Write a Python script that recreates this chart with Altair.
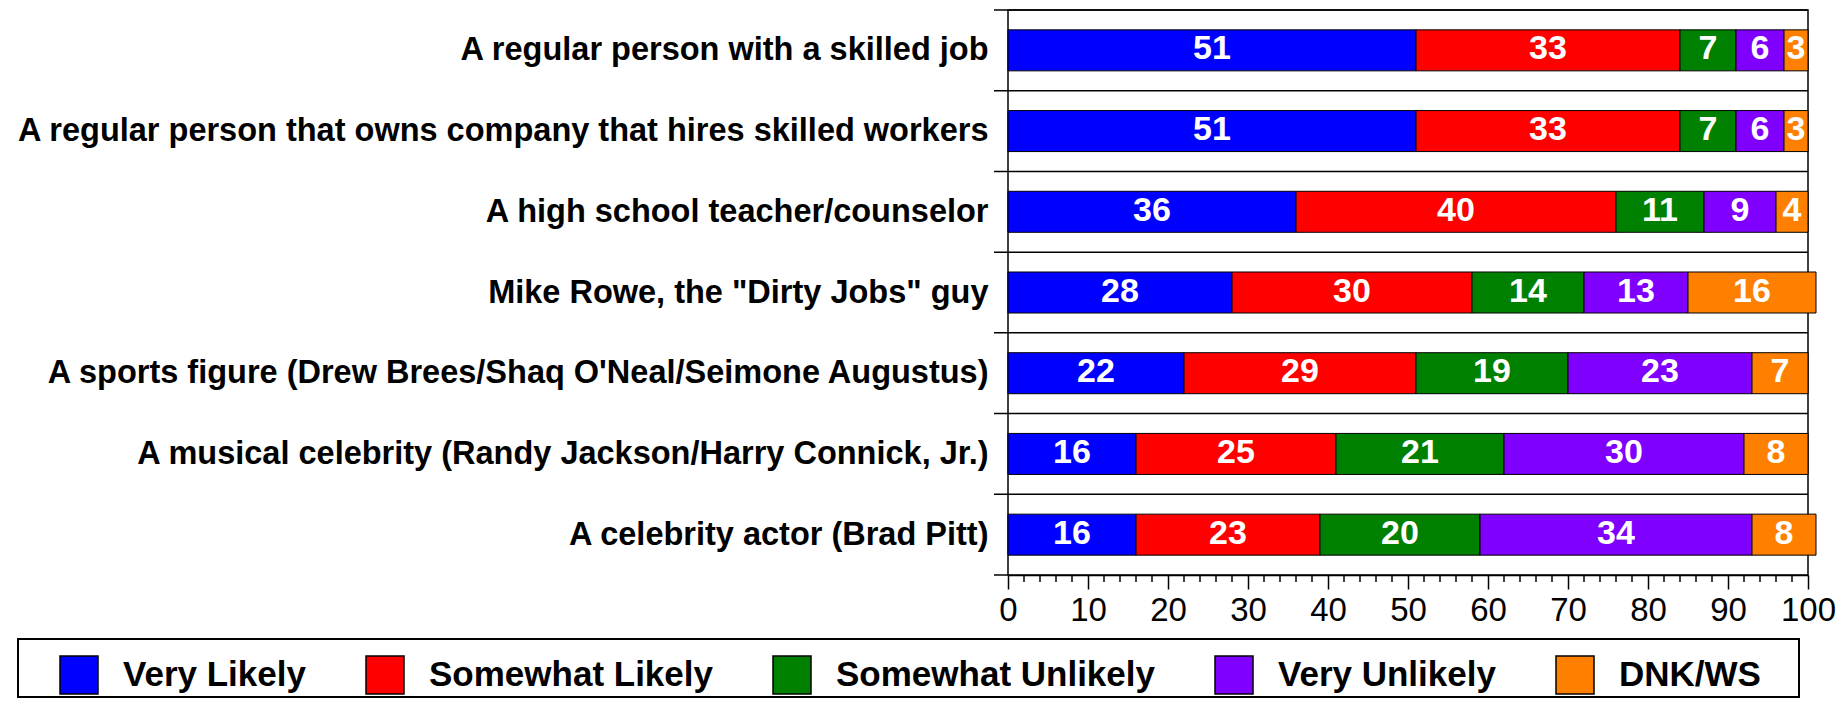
import altair as alt
import pandas as pd

items = [
    "A regular person with a skilled job",
    "A regular person that owns company that hires skilled workers",
    "A high school teacher/counselor",
    'Mike Rowe, the "Dirty Jobs" guy',
    "A sports figure (Drew Brees/Shaq O'Neal/Seimone Augustus)",
    "A musical celebrity (Randy Jackson/Harry Connick, Jr.)",
    "A celebrity actor (Brad Pitt)",
]
categories = ["Very Likely", "Somewhat Likely", "Somewhat Unlikely", "Very Unlikely", "DNK/WS"]
colors = ["#0000FF", "#FF0000", "#008000", "#8000FF", "#FF8000"]

very_likely = [51, 51, 36, 28, 22, 16, 16]
somewhat_likely = [33, 33, 40, 30, 29, 25, 23]
somewhat_unlikely = [7, 7, 11, 14, 19, 21, 20]
very_unlikely = [6, 6, 9, 13, 23, 30, 34]
dnk_ws = [3, 3, 4, 16, 7, 8, 8]

x_ticks = [0, 10, 20, 30, 40, 50, 60, 70, 80, 90, 100]
minor_ticks = [v for v in range(0, 101, 2) if v % 10]

series = [very_likely, somewhat_likely, somewhat_unlikely, very_unlikely, dnk_ws]
rows = []
for i, item in enumerate(items):
    for j, cat in enumerate(categories):
        rows.append({"item": item, "category": cat, "order": j, "value": series[j][i]})
df = pd.DataFrame(rows)

W, H = 800, 565
FONT = "Liberation Sans"

y_axis = alt.Axis(ticks=False, domain=False, grid=False, labelPadding=20,
                  labelFontSize=32.5, labelFontWeight="bold", labelLimit=2000,
                  labelColor="black", labelFont=FONT)
x_axis = alt.Axis(values=x_ticks, grid=False, domain=True, domainColor="black",
                  domainWidth=1.5, tickColor="black", tickWidth=1.5, tickSize=14,
                  labelFontSize=33, labelFont=FONT, labelColor="black",
                  labelPadding=5, labelFlush=False, labelOverlap=False)
x_scale = alt.Scale(domain=[0, 100], nice=False)
y_scale = alt.Scale(paddingInner=0, paddingOuter=0)

base = alt.Chart(df).transform_stack(
    stack="value", as_=["x0", "x1"], groupby=["item"],
    sort=[alt.SortField("order", order="ascending")],
)

bars = base.mark_bar(size=41, stroke="black", strokeWidth=1).encode(
    y=alt.Y("item:N", sort=items, title=None, axis=y_axis, scale=y_scale),
    x=alt.X("x0:Q", scale=x_scale, title=None, axis=x_axis),
    x2="x1:Q",
    color=alt.Color(
        "category:N",
        scale=alt.Scale(domain=categories, range=colors),
        legend=alt.Legend(
            title=None, orient="none", legendX=-949, legendY=645,
            direction="horizontal", symbolType="square", symbolSize=1444,
            symbolStrokeColor="black", symbolStrokeWidth=1.5, symbolOpacity=1,
            labelFontSize=35, labelFont=FONT, labelFontWeight="bold",
            labelColor="black", labelOffset=24, columnPadding=57, padding=0,
            labelLimit=1000,
        ),
    ),
)

text = base.transform_calculate(mid="(datum.x0 + datum.x1) / 2").mark_text(
    color="white", fontSize=34, fontWeight="bold", font=FONT,
    baseline="middle", dy=-1
).encode(
    y=alt.Y("item:N", sort=items, title=None, axis=y_axis),
    x=alt.X("mid:Q", scale=x_scale, title=None, axis=x_axis),
    text="value:Q",
)

grid = alt.Chart(pd.DataFrame({"item": items})).mark_rule(
    color="black", strokeWidth=1.5
).encode(
    y=alt.Y("item:N", sort=items, bandPosition=0, title=None, axis=y_axis),
    x=alt.value(-14),
    x2=alt.value(W),
)

bottom_tick = alt.Chart(pd.DataFrame({"a": [0]})).mark_rule(
    color="black", strokeWidth=1.5
).encode(x=alt.value(-14), x2=alt.value(0), y=alt.value(H))

minor = alt.Chart(pd.DataFrame({"v": minor_ticks})).mark_rule(
    color="black", strokeWidth=1.5
).encode(
    x=alt.X("v:Q", scale=x_scale, title=None, axis=x_axis),
    y=alt.value(H),
    y2=alt.value(H + 7),
)

frame = alt.Chart(pd.DataFrame({"a": [0]})).mark_rect(
    fill="white", fillOpacity=0, stroke="black", strokeWidth=2
).encode(x=alt.value(-990), x2=alt.value(791), y=alt.value(629), y2=alt.value(687))

chart = alt.layer(frame, grid, bottom_tick, minor, bars, text).properties(
    width=W, height=H,
    autosize=alt.AutoSizeParams(type="none"),
    padding={"left": 1000, "top": 2, "right": 28, "bottom": 123},
).configure_view(stroke="black", strokeWidth=1.5)

chart.save("out.html", embed_options={"renderer": "svg", "actions": False})
